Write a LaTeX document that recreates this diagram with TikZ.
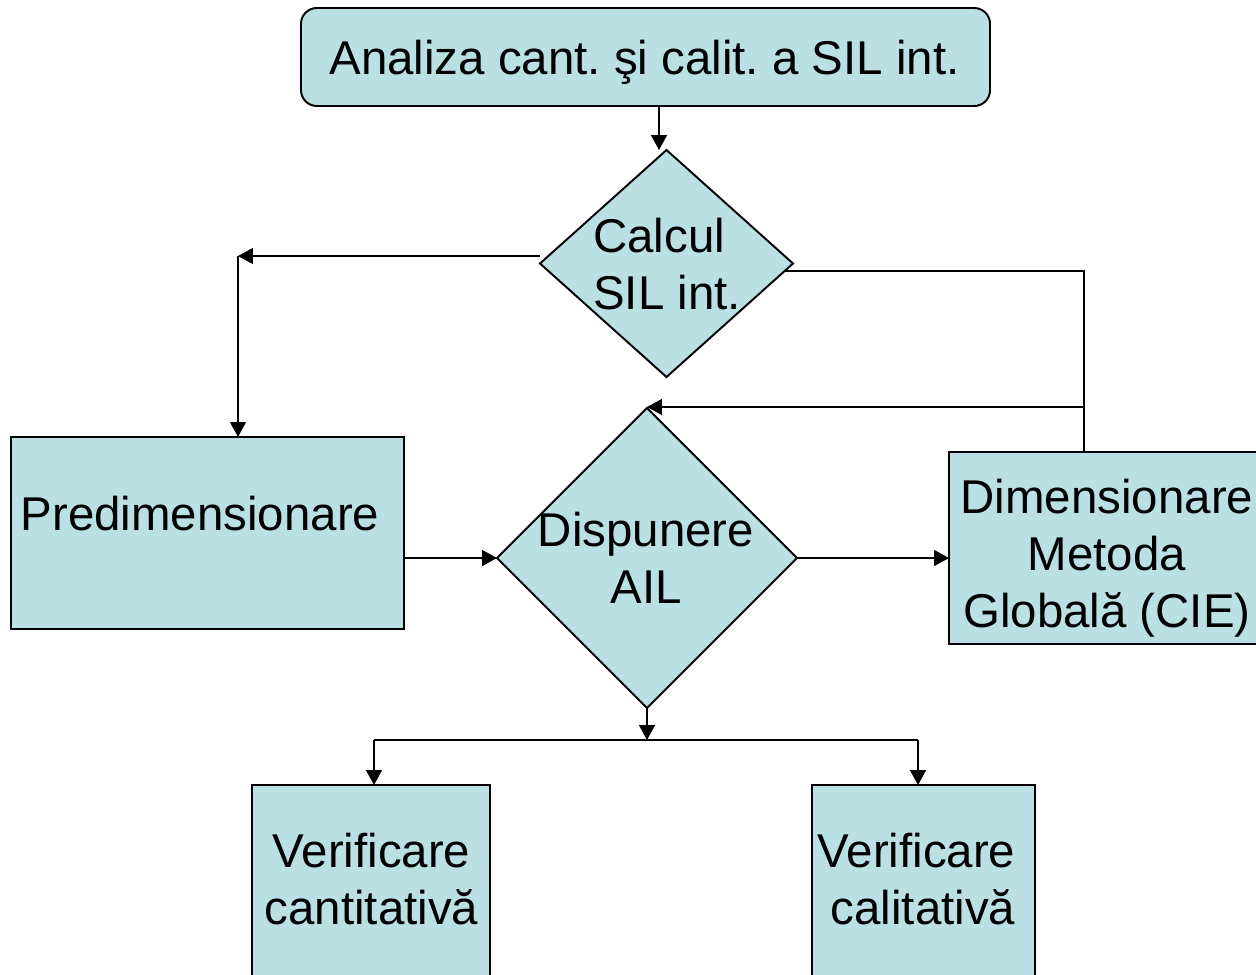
\documentclass[tikz,border=0pt]{standalone}
\usepackage{fontspec}
\setmainfont{Liberation Sans}
\usetikzlibrary{shapes.geometric,arrows.meta}
\newlength\px \setlength\px{0.02cm}
\definecolor{boxfill}{RGB}{187,224,227}
\frenchspacing
\begin{document}
\begin{tikzpicture}[x=0.02cm,y=-0.02cm,
  box/.style={draw, line width=1.1pt, fill=boxfill, inner sep=0pt, outer sep=0pt},
  rbox/.style={box, rounded corners=9pt},
  dia/.style={box, diamond},
  lbl/.style={align=center, font=\fontsize{27}{32.6}\selectfont\frenchspacing, inner sep=0pt},
  arr/.style={line width=1.1pt, -{Triangle[length=8.5pt,width=9pt]}},
  ln/.style={line width=1.1pt}]
\useasboundingbox (0,0) rectangle (1256,974);

% shapes
\node[rbox, minimum width=689*\px, minimum height=98*\px] (top) at (645.5,57) {};
\node[lbl, anchor=base] (topt) at (644.5,74) {Analiza cant. şi calit. a SIL int.};
\node[dia, minimum width=253*\px, minimum height=227*\px] (calc) at (666.5,263.5) {};
\node[lbl, align=left] (calct) at (667,264) {Calcul\\SIL int.};
\node[box, minimum width=393*\px, minimum height=192*\px] (pre) at (207.5,533) {};
\node[lbl, anchor=base] (pret) at (200,530) {Predimensionare};
\node[dia, minimum width=300*\px, minimum height=300*\px] (disp) at (647,558) {};
\node[lbl] (dispt) at (646,558) {Dispunere\\AIL};
\node[box, minimum width=318*\px, minimum height=192*\px] (dim) at (1108,548) {};
\node[lbl] (dimt) at (1107,558) {Dimensionare\\Metoda\\Globală (CIE)};
\node[box, minimum width=238*\px, minimum height=205*\px] (vq) at (371,887.5) {};
\node[lbl] (vqt) at (371.5,879) {Verificare\\cantitativă};
\node[box, minimum width=223*\px, minimum height=205*\px] (vl) at (923.5,887.5) {};
\node[lbl, align=right] (vlt) at (916.5,879) {Verificare\\calitativă};

% junctions
\coordinate (j0) at ([xshift=13.5*\px]top.south);
\coordinate (j1) at (238,256);
\coordinate (j2s) at (785,271);
\coordinate (j2) at (1084,271);
\coordinate (j3) at (1084,407);
\coordinate (j4l) at (374,740);
\coordinate (j4r) at (918,740);

% connectors
\draw[arr] (j0) -- (j0 |- calc.north);
\draw[arr] (calc.west |- j1) -- (j1);
\draw[arr] (j1) -- (j1 |- pre.north);
\draw[ln] (j2s) -- (j2) -- (j2 |- dim.north);
\draw[arr] (j3) -- (j3 -| disp.north);
\draw[arr] (pre.east |- disp.west) -- (disp.west);
\draw[arr] (disp.east) -- (dim.west |- disp.east);
\draw[arr] (disp.south) -- (disp.south |- j4l);
\draw[ln] (j4l) -- (j4r);
\draw[arr] (j4l) -- (j4l |- vq.north);
\draw[arr] (j4r) -- (j4r |- vl.north);
\end{tikzpicture}
\end{document}
